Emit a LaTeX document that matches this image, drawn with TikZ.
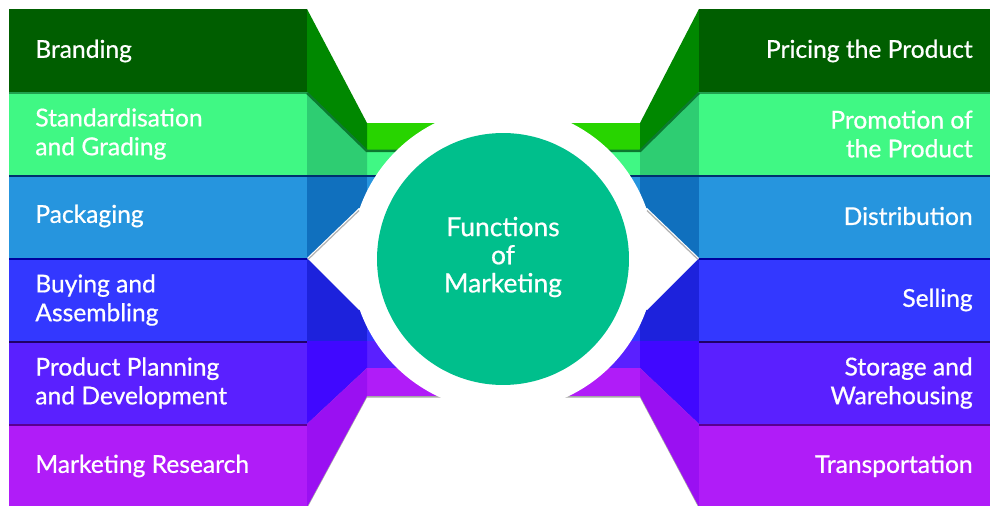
\documentclass[tikz,border=0pt]{standalone}
\usepackage{fontspec}
\setmainfont{Lato}
\newfontfamily\lblfont{Lato}[FakeBold=0.7]
\usepackage{xcolor}
\usetikzlibrary{positioning}

% band colours: front face, slanted face, separator
\definecolor{grnFront}{HTML}{005E00}
\definecolor{grnTop}{HTML}{008800}
\definecolor{grnBack}{HTML}{28D400}
\definecolor{grnLine}{HTML}{21A04F}
\definecolor{grnDark}{HTML}{0B7A30}
\definecolor{lgrFront}{HTML}{40F884}
\definecolor{lgrSide}{HTML}{2ECD72}
\definecolor{bluFront}{HTML}{2695DE}
\definecolor{bluSide}{HTML}{1070BE}
\definecolor{bluLine}{HTML}{00306E}
\definecolor{dblFront}{HTML}{3338FF}
\definecolor{dblSide}{HTML}{1D22DC}
\definecolor{dblLine}{HTML}{00009E}
\definecolor{vioFront}{HTML}{5A20FF}
\definecolor{vioSide}{HTML}{4008FF}
\definecolor{vioLine}{HTML}{200068}
\definecolor{purFront}{HTML}{B01CF8}
\definecolor{purSide}{HTML}{9A10F2}
\definecolor{purLine}{HTML}{5A0090}
\definecolor{coreTeal}{HTML}{00BF8C}

\begin{document}
\begin{tikzpicture}[
  x=0.02cm, y=-0.02cm,
  fnlabel/.style={font=\lblfont\fontsize{14}{16.4}\selectfont, text=white, inner sep=0pt},
  leftlbl/.style={fnlabel, anchor=west, align=left},
  rightlbl/.style={fnlabel, anchor=east, align=right},
  sep/.style={line width=0.05cm}
]
\useasboundingbox (0,0) rectangle (990,506);

% soft shadow below the whole band shape
\fill[black!35, yshift=-0.03cm] (9,9) -- (307,9) -- (367,123) -- (640,123) -- (699,9) -- (990,9)
  -- (990,507) -- (699,507) -- (640,396) -- (367,396) -- (307,507) -- (9,507) -- cycle;

% back strips running behind the disc
\foreach \ya/\yb/\col in {123/150/grnBack, 150/175/lgrFront, 175/258/bluFront,
                          258/341/dblFront, 341/368/vioFront, 368/396/purFront}
  \fill[\col] (367,\ya) rectangle (640,\yb);

% slanted side faces, left and right
\foreach \fa/\fb/\ba/\bb/\col in {9/92/123/150/grnTop, 92/175/150/175/lgrSide,
                                  175/258/175/258/bluSide, 258/341/258/341/dblSide,
                                  341/424/341/368/vioSide, 424/507/368/396/purSide}{
  \fill[\col] (307,\fa) -- (367,\ba) -- (367,\bb) -- (307,\fb) -- cycle;
  \fill[\col] (699,\fa) -- (640,\ba) -- (640,\bb) -- (699,\fb) -- cycle;
}

% front boxes
\foreach \fa/\fb/\col in {9/92/grnFront, 92/175/lgrFront, 175/258/bluFront,
                          258/341/dblFront, 341/424/vioFront, 424/507/purFront}{
  \fill[\col] (9,\fa) rectangle (307,\fb);
  \fill[\col] (699,\fa) rectangle (990,\fb);
}

% separators between bands
\draw[sep, grnLine] (9,93) -- (307,93);
\draw[sep, grnLine] (699,93) -- (990,93);
\draw[sep, grnDark] (307,93) -- (367,151) -- (640,151) -- (699,93);
\draw[sep, bluLine] (9,176) -- (990,176);
\foreach \y/\col in {259/dblLine, 342/vioLine, 425/purLine}{
  \draw[sep, \col] (9,\y) -- (307,\y);
  \draw[sep, \col] (699,\y) -- (990,\y);
}

% white ring and the two wedges
\fill[white] (503,259) circle (3.04cm);
\fill[white] (307,258) -- (359,208) -- (503,259) -- (359,310) -- cycle;
\fill[white] (699,258) -- (647,208) -- (503,259) -- (647,310) -- cycle;
\draw[black!30, line width=0.025cm] (308,259.5) -- (359,210.5);
\draw[black!30, line width=0.025cm] (698,259.5) -- (647,210.5);

% centre disc
\fill[coreTeal] (503,259) circle (2.52cm);
\node[fnlabel, align=center, font=\lblfont\fontsize{15}{16}\selectfont] (core) at (503,257)
  {Functions\\of\\Marketing};

% left column
\node[leftlbl] (brand) at (35,51) {Branding};
\node[leftlbl] (grade) at (35,134) {Standardisation\\and Grading};
\node[leftlbl] (pack) at (35,216) {Packaging};
\node[leftlbl] (buy) at (35,300) {Buying and\\Assembling};
\node[leftlbl] (plan) at (35,383) {Product Planning\\and Development};
\node[leftlbl] (research) at (35,466) {Marketing Research};

% right column
\node[rightlbl] (price) at (973,51) {Pricing the Product};
\node[rightlbl] (promo) at (973,134) {Promotion of\\the Product};
\node[rightlbl] (distr) at (973,216) {Distribution};
\node[rightlbl] (sell) at (973,300) {Selling};
\node[rightlbl] (store) at (973,383) {Storage and\\Warehousing};
\node[rightlbl] (transp) at (973,466) {Transportation};
\end{tikzpicture}
\end{document}
